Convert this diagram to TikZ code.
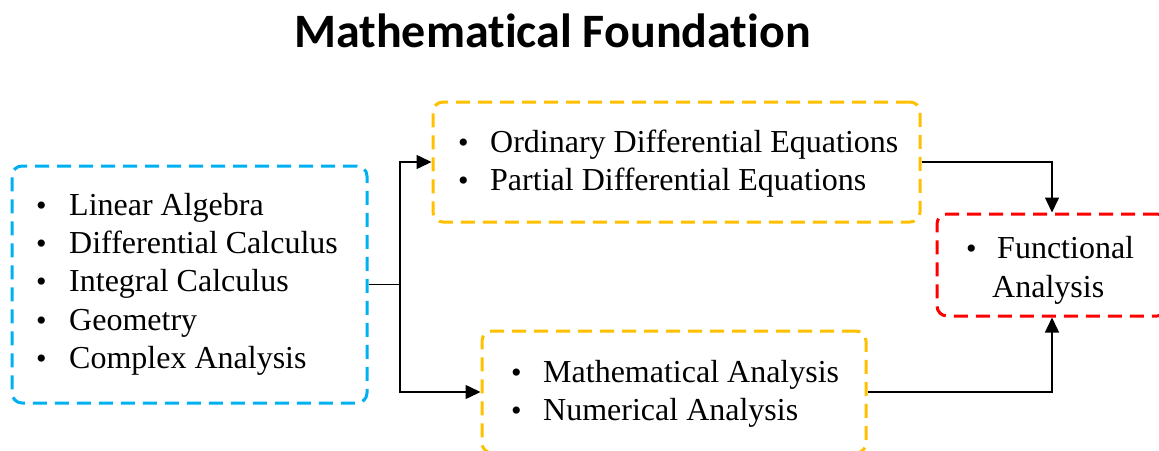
\documentclass[tikz,border=0pt]{standalone}
\usepackage{fontspec}
\setmainfont{Liberation Serif}
\newfontfamily\titlefont[Ligatures={NoCommon}]{Carlito}
\usetikzlibrary{arrows.meta}
\definecolor{cblue}{HTML}{00B0F0}
\definecolor{cyel}{HTML}{FFC000}
\definecolor{cred}{HTML}{FF0000}
\begin{document}
\begin{tikzpicture}[x=1pt,y=-1pt,
  box/.style={draw=#1, rectangle, inner sep=0pt, line width=3pt,
    dash pattern=on 14pt off 8pt, rounded corners=10pt},
  item/.style={anchor=base west, inner sep=0pt, font=\fontsize{32}{38}\selectfont},
  bul/.style={anchor=base west, inner sep=0pt, font=\fontsize{30}{38}\selectfont},
  conn/.style={line width=1.5pt, -{Triangle[length=15pt,width=14pt]}},
  link/.style={line width=1.5pt}
]
\useasboundingbox (0,0) rectangle (1159,450);
\clip (0,0) rectangle (1159,450);

\node[font=\titlefont\bfseries\fontsize{48}{58}\selectfont, anchor=base, inner sep=0pt] (title) at (552.5,47) {Mathematical Foundation};

\node[box=cblue, minimum width=355pt, minimum height=237pt] (basic) at (189.5,284.5) {};
\node[box=cyel, minimum width=487pt, minimum height=120pt] (ode) at (676.5,162) {};
\node[box=cyel, minimum width=384pt, minimum height=122pt] (ana) at (674,392) {};
\node[box=cred, minimum width=230pt, minimum height=102pt] (fa) at (1052,265) {};

% blue box items
\node[bul] (b1) at (36,215) {\textbullet};
\node[item] (t1) at (69,215) {Linear Algebra};
\node[bul] (b2) at (36,253) {\textbullet};
\node[item] (t2) at (69,253) {Differential Calculus};
\node[bul] (b3) at (36,291.5) {\textbullet};
\node[item] (t3) at (69,291.5) {Integral Calculus};
\node[bul] (b4) at (36,330) {\textbullet};
\node[item] (t4) at (69,330) {Geometry};
\node[bul] (b5) at (36,368.5) {\textbullet};
\node[item] (t5) at (69,368.5) {Complex Analysis};

% top yellow items
\node[bul] (b6) at (458,152) {\textbullet};
\node[item] (t6) at (490,152) {Ordinary Differential Equations};
\node[bul] (b7) at (458,190.5) {\textbullet};
\node[item] (t7) at (490,190.5) {Partial Differential Equations};

% bottom yellow items
\node[bul] (b8) at (511,382) {\textbullet};
\node[item] (t8) at (543,382) {Mathematical Analysis};
\node[bul] (b9) at (511,420.5) {\textbullet};
\node[item] (t9) at (543,420.5) {Numerical Analysis};

% red items
\node[bul] (b10) at (966,258.5) {\textbullet};
\node[item] (t10) at (997,258.5) {Functional};
\node[item] (t11) at (992,297) {Analysis};

% connectors
\coordinate (split) at (400,284.5);
\draw[link] (basic.east) -- (split);
\draw[conn] (split) |- (ode.west);
\draw[conn] (split) |- (ana.west);
\draw[conn] (ode.east) -| (fa.north);
\draw[conn] (ana.east) -| (fa.south);
\end{tikzpicture}
\end{document}
